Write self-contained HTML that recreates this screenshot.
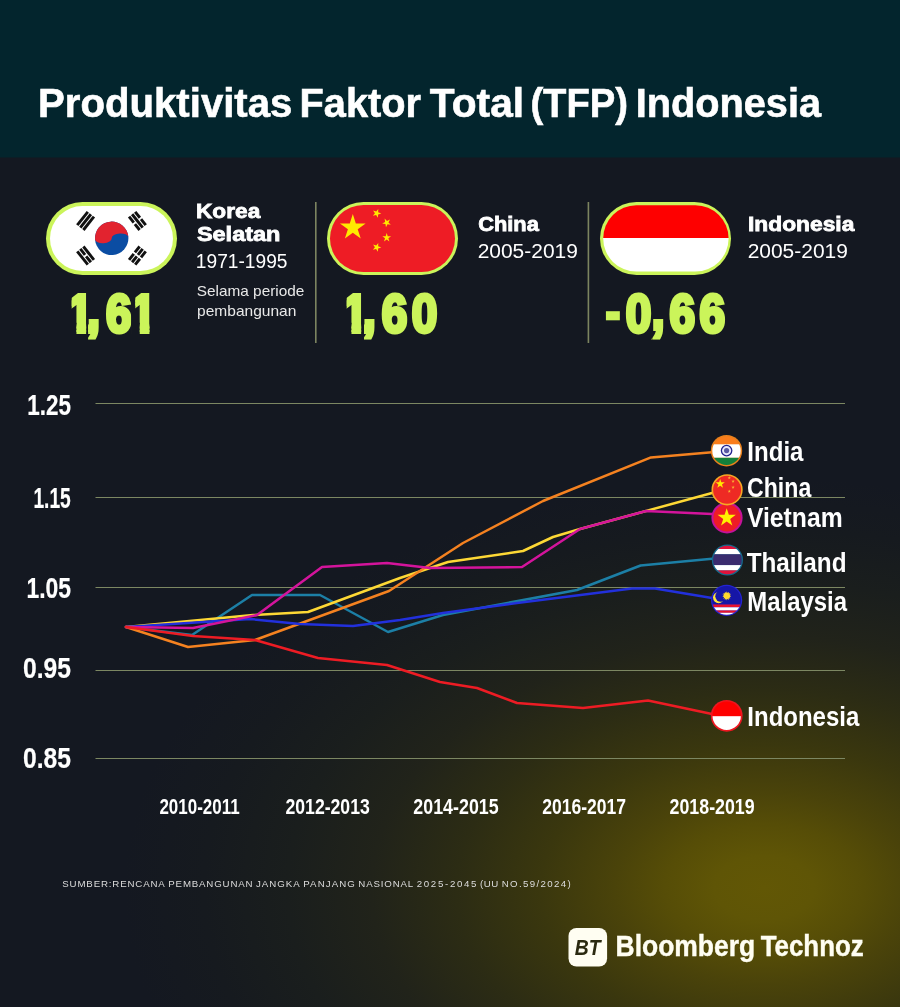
<!DOCTYPE html>
<html lang="id"><head><meta charset="utf-8"><title>Produktivitas Faktor Total (TFP) Indonesia</title>
<style>
html,body{margin:0;padding:0;background:#141821;}
body{width:900px;height:1007px;overflow:hidden;position:relative;font-family:"Liberation Sans",sans-serif;}
svg{position:absolute;left:0;top:0;display:block}
svg text{font-family:"Liberation Sans",sans-serif;}
</style></head><body>
<svg width="900" height="1007" viewBox="0 0 900 1007">
<defs>
<radialGradient id="glow" gradientUnits="userSpaceOnUse" cx="764" cy="888" r="640" gradientTransform="translate(764 888) scale(1 0.64) translate(-764 -888)">
<stop offset="0.000" stop-color="#625705"/>
<stop offset="0.078" stop-color="#5f5506"/>
<stop offset="0.156" stop-color="#564d07"/>
<stop offset="0.234" stop-color="#4a430a"/>
<stop offset="0.350" stop-color="#3a370e"/>
<stop offset="0.481" stop-color="#2c2c14"/>
<stop offset="0.613" stop-color="#21231a"/>
<stop offset="0.744" stop-color="#1a1e1d"/>
<stop offset="0.875" stop-color="#161a1f"/>
<stop offset="1.000" stop-color="#141821"/>
</radialGradient>
<clipPath id="pi"><rect x="603.2" y="205.2" width="125.4" height="66.4" rx="33.2"/></clipPath>
<path id="star" d="M0,-1 L0.2245,-0.309 L0.9511,-0.309 L0.3633,0.118 L0.5878,0.809 L0,0.382 L-0.5878,0.809 L-0.3633,0.118 L-0.9511,-0.309 L-0.2245,-0.309 Z"/>
</defs>
<rect x="0" y="0" width="900" height="1007" fill="#141821"/>
<rect x="0" y="0" width="900" height="1007" fill="url(#glow)"/>
<rect x="0" y="0" width="900" height="157.5" fill="#03252d"/>

<g id="title">
<text x="38.09" y="117" font-size="40.5" font-weight="bold" fill="#fff" text-anchor="start" textLength="254.32" lengthAdjust="spacingAndGlyphs" stroke="#fff" stroke-width="0.6" stroke-linejoin="miter">Produktivitas</text>
<text x="299.52" y="117" font-size="40.5" font-weight="bold" fill="#fff" text-anchor="start" textLength="121.43" lengthAdjust="spacingAndGlyphs" stroke="#fff" stroke-width="0.6" stroke-linejoin="miter">Faktor</text>
<text x="429.89" y="117" font-size="40.5" font-weight="bold" fill="#fff" text-anchor="start" textLength="94.23" lengthAdjust="spacingAndGlyphs" stroke="#fff" stroke-width="0.6" stroke-linejoin="miter">Total</text>
<text x="530.39" y="117" font-size="40.5" font-weight="bold" fill="#fff" text-anchor="start" textLength="97.72" lengthAdjust="spacingAndGlyphs" stroke="#fff" stroke-width="0.6" stroke-linejoin="miter">(TFP)</text>
<text x="635.72" y="117" font-size="40.5" font-weight="bold" fill="#fff" text-anchor="start" textLength="185.28" lengthAdjust="spacingAndGlyphs" stroke="#fff" stroke-width="0.6" stroke-linejoin="miter">Indonesia</text>
</g>
<g id="korea">
<rect x="46" y="202" width="131" height="73" rx="36.5" fill="#cbf45a"/>
<rect x="50" y="206" width="123" height="65" rx="32.5" fill="#fff"/>
<g transform="rotate(-4 111.7 238.3)">
<circle cx="111.7" cy="238.3" r="16.7" fill="#0b4da3"/>
<path d="M95.0,238.3 A16.7,16.7 0 0 1 128.4,238.3 A8.35,4.3 0 0 0 111.7,238.3 A8.35,4.3 0 0 1 95.0,238.3 Z" fill="#e2232f"/>
</g>
<g transform="translate(85.6 220.9) rotate(-51.6)" fill="#111"><rect x="-8.5" y="-5.35" width="17" height="2.9"/><rect x="-8.5" y="-1.45" width="17" height="2.9"/><rect x="-8.5" y="2.45" width="17" height="2.9"/></g>
<g transform="translate(137.4 220.9) rotate(51.6)" fill="#111"><rect x="-8.5" y="-5.35" width="7.6" height="2.9"/><rect x="0.9" y="-5.35" width="7.6" height="2.9"/><rect x="-8.5" y="-1.45" width="17" height="2.9"/><rect x="-8.5" y="2.45" width="7.6" height="2.9"/><rect x="0.9" y="2.45" width="7.6" height="2.9"/></g>
<g transform="translate(85.6 255.6) rotate(51.6)" fill="#111"><rect x="-8.5" y="-5.35" width="17" height="2.9"/><rect x="-8.5" y="-1.45" width="7.6" height="2.9"/><rect x="0.9" y="-1.45" width="7.6" height="2.9"/><rect x="-8.5" y="2.45" width="17" height="2.9"/></g>
<g transform="translate(137.4 255.6) rotate(-51.6)" fill="#111"><rect x="-8.5" y="-5.35" width="7.6" height="2.9"/><rect x="0.9" y="-5.35" width="7.6" height="2.9"/><rect x="-8.5" y="-1.45" width="7.6" height="2.9"/><rect x="0.9" y="-1.45" width="7.6" height="2.9"/><rect x="-8.5" y="2.45" width="7.6" height="2.9"/><rect x="0.9" y="2.45" width="7.6" height="2.9"/></g>
</g>
<clipPath id="k1"><path d="M71.70,287.31 H86.15 V347.90 H76.46 V322.79 H71.70 Z"/><rect x="88.10" y="287.31" width="12.50" height="60.59"/><rect x="105.40" y="287.31" width="25.70" height="60.59"/><path d="M135.30,287.31 H149.45 V347.90 H139.76 V322.79 H135.30 Z"/></clipPath><g clip-path="url(#k1)"><text transform="translate(0 331.9) scale(0.855 1)" x="78.89 101.98 124.01 152.93" y="0" dy="0.00 -3.20 3.20 0.00" font-size="53.7" font-weight="bold" fill="#cbf45a" stroke="#cbf45a" stroke-width="4" stroke-linejoin="miter">1,61</text></g>
<text x="196.01" y="218" font-size="20.3" font-weight="bold" fill="#fff" text-anchor="start" textLength="64.26" lengthAdjust="spacingAndGlyphs" stroke="#fff" stroke-width="0.8" stroke-linejoin="miter">Korea</text>
<text x="196.9" y="241.2" font-size="20.3" font-weight="bold" fill="#fff" text-anchor="start" textLength="83.55" lengthAdjust="spacingAndGlyphs" stroke="#fff" stroke-width="0.8" stroke-linejoin="miter">Selatan</text>
<text x="195.86" y="267.5" font-size="20" font-weight="normal" fill="#fff" text-anchor="start" textLength="91.65" lengthAdjust="spacingAndGlyphs">1971-1995</text>
<text x="196.73" y="296.3" font-size="14.6" font-weight="normal" fill="#e8e8e8" text-anchor="start" textLength="107.65" lengthAdjust="spacingAndGlyphs">Selama periode</text>
<text x="197.07" y="316.3" font-size="14.6" font-weight="normal" fill="#e8e8e8" text-anchor="start" textLength="99.23" lengthAdjust="spacingAndGlyphs">pembangunan</text>
<rect x="315" y="202" width="1.6" height="141" fill="#7c8460"/>
<rect x="587.6" y="202" width="1.6" height="141" fill="#7c8460"/>
<g id="china">
<rect x="327" y="202" width="131" height="73" rx="36.5" fill="#cbf45a"/>
<rect x="330" y="205" width="125" height="67" rx="33.5" fill="#ee1c25"/>
<use href="#star" transform="translate(352.8 227.6) scale(13.5)" fill="#ffea00"/>
<use href="#star" transform="translate(376.7 213.3) rotate(20) scale(4.6)" fill="#ffea00"/>
<use href="#star" transform="translate(386.7 222.7) rotate(45) scale(4.6)" fill="#ffea00"/>
<use href="#star" transform="translate(386.7 237.7) rotate(0) scale(4.6)" fill="#ffea00"/>
<use href="#star" transform="translate(376.7 247.3) rotate(20) scale(4.6)" fill="#ffea00"/>
</g>
<clipPath id="k2"><path d="M346.70,287.31 H361.15 V347.90 H351.46 V322.79 H346.70 Z"/><rect x="364.00" y="287.31" width="12.30" height="60.59"/><rect x="381.10" y="287.31" width="26.50" height="60.59"/><rect x="411.40" y="287.31" width="26.60" height="60.59"/></clipPath><g clip-path="url(#k2)"><text transform="translate(0 331.9) scale(0.855 1)" x="400.53 424.67 446.46 481.72" y="0" dy="0.00 -3.20 3.20 0.00" font-size="53.7" font-weight="bold" fill="#cbf45a" stroke="#cbf45a" stroke-width="4" stroke-linejoin="miter">1,60</text></g>
<text x="478.23" y="231.3" font-size="20.3" font-weight="bold" fill="#fff" text-anchor="start" textLength="60.61" lengthAdjust="spacingAndGlyphs" stroke="#fff" stroke-width="0.8" stroke-linejoin="miter">China</text>
<text x="477.65" y="258" font-size="20" font-weight="normal" fill="#fff" text-anchor="start" textLength="100.24" lengthAdjust="spacingAndGlyphs">2005-2019</text>
<g id="indonesia">
<rect x="600" y="202" width="131" height="73" rx="36.5" fill="#cbf45a"/>
<g clip-path="url(#pi)"><rect x="600" y="200" width="135" height="38" fill="#fe0000"/><rect x="600" y="238" width="135" height="40" fill="#fff"/></g>
</g>
<clipPath id="k3"><rect x="605.30" y="287.31" width="16.00" height="60.59"/><rect x="625.40" y="287.31" width="27.00" height="60.59"/><rect x="652.70" y="287.31" width="13.70" height="60.59"/><rect x="669.00" y="287.31" width="26.10" height="60.59"/><rect x="698.90" y="287.31" width="26.60" height="60.59"/></clipPath><g clip-path="url(#k3)"><text transform="translate(0 331.9) scale(0.855 1)" x="707.81 732.02 762.33 783.19 818.16" y="0" dy="-2.20 2.20 -3.20 3.20 0.00" font-size="53.7" font-weight="bold" fill="#cbf45a" stroke="#cbf45a" stroke-width="4" stroke-linejoin="miter"><tspan stroke-width="2.6">-</tspan>0,66</text></g>
<text x="748.01" y="231.3" font-size="20.3" font-weight="bold" fill="#fff" text-anchor="start" textLength="106.31" lengthAdjust="spacingAndGlyphs" stroke="#fff" stroke-width="0.8" stroke-linejoin="miter">Indonesia</text>
<text x="747.65" y="258" font-size="20" font-weight="normal" fill="#fff" text-anchor="start" textLength="100.24" lengthAdjust="spacingAndGlyphs">2005-2019</text>
<g id="grid">
<rect x="95.5" y="403" width="749.5" height="1" fill="#7c8762"/>
<rect x="95.5" y="497" width="749.5" height="1" fill="#7c8762"/>
<rect x="95.5" y="587" width="749.5" height="1" fill="#7c8762"/>
<rect x="95.5" y="670" width="749.5" height="1" fill="#7c8762"/>
<rect x="95.5" y="758" width="749.5" height="1" fill="#7c8762"/>
</g>
<text x="27.25" y="414.7" font-size="29" font-weight="bold" fill="#fff" text-anchor="start" textLength="43.64" lengthAdjust="spacingAndGlyphs" stroke="#fff" stroke-width="0.2" stroke-linejoin="miter">1.25</text>
<text x="33.45" y="508" font-size="29" font-weight="bold" fill="#fff" text-anchor="start" textLength="37.36" lengthAdjust="spacingAndGlyphs" stroke="#fff" stroke-width="0.2" stroke-linejoin="miter">1.15</text>
<text x="26.53" y="598.4" font-size="29" font-weight="bold" fill="#fff" text-anchor="start" textLength="44.58" lengthAdjust="spacingAndGlyphs" stroke="#fff" stroke-width="0.2" stroke-linejoin="miter">1.05</text>
<text x="22.91" y="678.3" font-size="29" font-weight="bold" fill="#fff" text-anchor="start" textLength="48.04" lengthAdjust="spacingAndGlyphs" stroke="#fff" stroke-width="0.2" stroke-linejoin="miter">0.95</text>
<text x="22.91" y="768.4" font-size="29" font-weight="bold" fill="#fff" text-anchor="start" textLength="48.04" lengthAdjust="spacingAndGlyphs" stroke="#fff" stroke-width="0.2" stroke-linejoin="miter">0.85</text>
<text x="159.39" y="814" font-size="22.6" font-weight="bold" fill="#fff" text-anchor="start" textLength="80.37" lengthAdjust="spacingAndGlyphs">2010-2011</text>
<text x="285.47" y="814" font-size="22.6" font-weight="bold" fill="#fff" text-anchor="start" textLength="84.3" lengthAdjust="spacingAndGlyphs">2012-2013</text>
<text x="413.36" y="814" font-size="22.6" font-weight="bold" fill="#fff" text-anchor="start" textLength="85.31" lengthAdjust="spacingAndGlyphs">2014-2015</text>
<text x="542.17" y="814" font-size="22.6" font-weight="bold" fill="#fff" text-anchor="start" textLength="83.87" lengthAdjust="spacingAndGlyphs">2016-2017</text>
<text x="669.57" y="814" font-size="22.6" font-weight="bold" fill="#fff" text-anchor="start" textLength="85.11" lengthAdjust="spacingAndGlyphs">2018-2019</text>
<g id="lines" fill="none" stroke-width="2.5" stroke-linejoin="round" stroke-linecap="round">
<polyline stroke="#1c7fa6" points="126,627 192,635 252,595 320,595 388,632 443,615 577,590 640.6,565.5 712,558.7"/>
<polyline stroke="#fdd835" points="126,627 253,615 308,612 400,578 448,562 523,551 553,537 580,529 712,493"/>
<polyline stroke="#f58220" points="126,627 188,647 255,640 389,591 463,543 543,501 651,457.4 712,452.2"/>
<polyline stroke="#2230dc" points="126,627 250,619 300,624 353,626 400,620 443,613 517,603 632,588.5 655,588.5 712,598"/>
<polyline stroke="#d4149c" points="126,627 193,628 257,615 322,567 387,563 430,568 522,567 580,529 646,511 712,514"/>
<polyline stroke="#ed1c24" points="126,627 193,636 255,640 318,658 387,665 440,682 477,688 517,703 583,708 648,700.5 712,714"/>
</g>
<g id="i-ina"><circle cx="726.7" cy="715.8" r="15.9" fill="#ee1620"/><clipPath id="c6"><circle cx="726.7" cy="715.8" r="14.2"/></clipPath>
<g clip-path="url(#c6)"><rect x="710" y="699" width="34" height="17.2" fill="#fe0000"/><rect x="710" y="716.2" width="34" height="17" fill="#fff"/></g></g>
<g id="i-mal"><circle cx="726.6" cy="600.3" r="15.6" fill="#2424d2"/><clipPath id="c5"><circle cx="726.6" cy="600.3" r="14.4"/></clipPath>
<g clip-path="url(#c5)"><rect x="710" y="584" width="34" height="20.5" fill="#1616a6"/>
<rect x="710" y="604.5" width="34" height="2.8" fill="#e8112d"/>
<rect x="710" y="607.3" width="34" height="3.2" fill="#fff"/>
<rect x="710" y="610.5" width="34" height="2.3" fill="#e8112d"/>
<rect x="710" y="612.8" width="34" height="4.2" fill="#fff"/>
<circle cx="718.6" cy="597.6" r="5.6" fill="#ffe23a"/><circle cx="720.9" cy="596.2" r="5.6" fill="#1616a6"/>
<circle cx="726.8" cy="595.8" r="2.9" fill="#ffd92e"/>
<polygon points="726.80,591.20 727.45,592.97 728.80,591.66 728.61,593.53 730.40,592.93 729.41,594.54 731.28,594.78 729.70,595.80 731.28,596.82 729.41,597.06 730.40,598.67 728.61,598.07 728.80,599.94 727.45,598.63 726.80,600.40 726.15,598.63 724.80,599.94 724.99,598.07 723.20,598.67 724.19,597.06 722.32,596.82 723.90,595.80 722.32,594.78 724.19,594.54 723.20,592.93 724.99,593.53 724.80,591.66 726.15,592.97" fill="#ffd92e"/>
</g></g>
<g id="i-thai"><circle cx="727.4" cy="560" r="15.6" fill="#14698c"/><clipPath id="c4"><circle cx="727.4" cy="560" r="14.3"/></clipPath>
<g clip-path="url(#c4)"><rect x="710" y="544" width="34" height="5" fill="#e0123a"/><rect x="710" y="549" width="34" height="5.3" fill="#fff"/><rect x="710" y="554.3" width="34" height="10.8" fill="#3a2c6e"/><rect x="710" y="565.1" width="34" height="5.3" fill="#fff"/><rect x="710" y="570.4" width="34" height="6" fill="#e0123a"/></g></g>
<g id="i-vietnam"><circle cx="727" cy="517.8" r="15.6" fill="#c4129a"/>
<circle cx="727" cy="517.8" r="13.6" fill="#ee1c25"/>
<use href="#star" transform="translate(726.7 517.8) scale(9.6)" fill="#fff200"/></g>
<g id="i-china"><circle cx="727.1" cy="489.8" r="15.6" fill="#f7a823"/>
<circle cx="727.1" cy="489.8" r="14" fill="#ee2a24"/>
<use href="#star" transform="translate(720.2 483.8) scale(4.9)" fill="#ffea00"/>
<use href="#star" transform="translate(729.3 477.8) scale(1.8)" fill="#f9b233"/>
<use href="#star" transform="translate(733.1 481.4) scale(1.8)" fill="#f9b233"/>
<use href="#star" transform="translate(733.1 487.2) scale(1.8)" fill="#f9b233"/>
<use href="#star" transform="translate(729.3 491.2) scale(1.8)" fill="#f9b233"/>
</g>
<g id="i-india"><circle cx="726.5" cy="450.7" r="15.7" fill="#e9801c"/><clipPath id="c1"><circle cx="726.5" cy="450.7" r="14.2"/></clipPath>
<g clip-path="url(#c1)"><rect x="710" y="435" width="34" height="9.3" fill="#fa7d1c"/><rect x="710" y="444.3" width="34" height="13.5" fill="#fff"/><rect x="710" y="457.8" width="34" height="10" fill="#14803a"/></g>
<circle cx="726.6" cy="450.6" r="5.2" fill="#e8e8fa" stroke="#23238e" stroke-width="1.3"/><circle cx="726.6" cy="450.6" r="2.6" fill="#2a2a86" opacity="0.75"/></g>
<text x="747.32" y="460.9" font-size="28.3" font-weight="bold" fill="#fff" text-anchor="start" textLength="56.13" lengthAdjust="spacingAndGlyphs">India</text>
<text x="747.08" y="496.7" font-size="28.3" font-weight="bold" fill="#fff" text-anchor="start" textLength="64.15" lengthAdjust="spacingAndGlyphs">China</text>
<text x="746.95" y="526.6" font-size="28.3" font-weight="bold" fill="#fff" text-anchor="start" textLength="95.68" lengthAdjust="spacingAndGlyphs">Vietnam</text>
<text x="746.66" y="571.5" font-size="28.3" font-weight="bold" fill="#fff" text-anchor="start" textLength="99.83" lengthAdjust="spacingAndGlyphs">Thailand</text>
<text x="747.33" y="611.1" font-size="28.3" font-weight="bold" fill="#fff" text-anchor="start" textLength="99.62" lengthAdjust="spacingAndGlyphs">Malaysia</text>
<text x="747.32" y="726.1" font-size="28.3" font-weight="bold" fill="#fff" text-anchor="start" textLength="111.98" lengthAdjust="spacingAndGlyphs">Indonesia</text>
<g id="source" font-size="9.7" fill="#dcdcdc">
<text x="62.3" y="886.6" textLength="102.5" lengthAdjust="spacing">SUMBER:RENCANA</text>
<text x="168.3" y="886.6" textLength="84.2" lengthAdjust="spacing">PEMBANGUNAN</text>
<text x="256" y="886.6" textLength="43.8" lengthAdjust="spacing">JANGKA</text>
<text x="303.3" y="886.6" textLength="51.5" lengthAdjust="spacing">PANJANG</text>
<text x="358.3" y="886.6" textLength="54.9" lengthAdjust="spacing">NASIONAL</text>
<text x="416.7" y="886.6" textLength="59.8" lengthAdjust="spacing">2025-2045</text>
<text x="480" y="886.6" textLength="18.2" lengthAdjust="spacing">(UU</text>
<text x="501.7" y="886.6" textLength="69" lengthAdjust="spacing">NO.59/2024)</text>
</g>
<g id="logo"><rect x="568.5" y="928" width="38.6" height="38.6" rx="8" fill="#fffef2"/>
<text x="574.71" y="954.7" font-size="22" font-weight="bold" fill="#2b2a10" text-anchor="start" textLength="25.79" lengthAdjust="spacingAndGlyphs" font-style="italic">BT</text>
<text x="615.55" y="956.4" font-size="28.6" font-weight="bold" fill="#fffef2" text-anchor="start" textLength="139.65" lengthAdjust="spacingAndGlyphs" stroke="#fffef2" stroke-width="0.4" stroke-linejoin="miter">Bloomberg</text>
<text x="760.64" y="956.4" font-size="28.6" font-weight="bold" fill="#fffef2" text-anchor="start" textLength="103.18" lengthAdjust="spacingAndGlyphs" stroke="#fffef2" stroke-width="0.4" stroke-linejoin="miter">Technoz</text>
</g>
</svg></body></html>
